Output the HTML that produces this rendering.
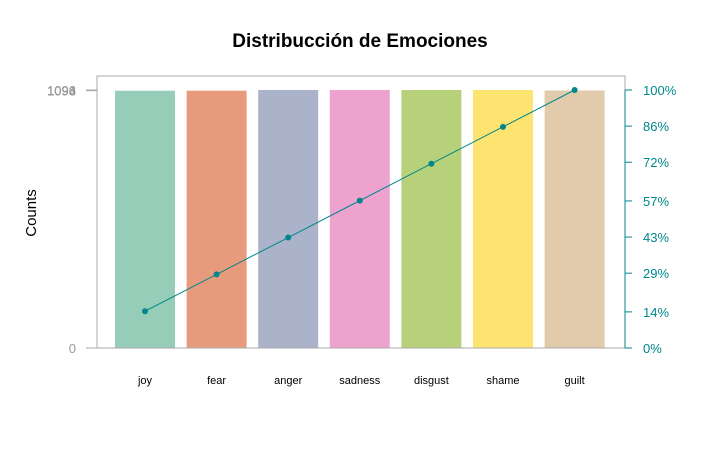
<!DOCTYPE html>
<html><head><meta charset="utf-8"><style>
body{margin:0;background:#fff;}
svg text{font-family:"Liberation Sans",Arial,sans-serif;}
</style></head><body>
<svg id="chart" width="721" height="445" xmlns="http://www.w3.org/2000/svg">
<text x="360" y="47" text-anchor="middle" font-size="19" font-weight="bold">Distribucción de Emociones</text>
<text transform="translate(36,213) rotate(-90)" text-anchor="middle" font-size="15">Counts</text>
<rect x="97" y="76" width="528" height="272" fill="none" stroke="#aaa" stroke-width="1"/>
<g id="bars"></g><g id="line"></g><g id="axes"></g>
</svg>
<script>
const categories=["joy","fear","anger","sadness","disgust","shame","guilt"];
const counts=[1093,1093,1096,1096,1096,1096,1094];
const leftTicks=[0,1093,1094,1096];
const pctTicks=[0,14,29,43,57,72,86,100];
const pctLabels=["0%","14%","29%","43%","57%","72%","86%","100%"];
const colors=["#95cdb9","#e89b7c","#abb3cb","#eea2ce","#b7d17a","#fde470","#e2cbac"];
const NS="http://www.w3.org/2000/svg";
const x0=97,x1=625,yb=348,yt=90;
const maxC=Math.max(...counts);
const total=counts.reduce((a,b)=>a+b,0);
function xc(i){return 145+i*71.6;}
function yv(v){return yb-v/maxC*(yb-yt);}
function yp(p){return yb-p/100*(yb-yt);}
function mk(t,a,p){const e=document.createElementNS(NS,t);for(const k in a)e.setAttribute(k,a[k]);p.appendChild(e);return e;}
const gb=document.getElementById('bars'),gl=document.getElementById('line'),ga=document.getElementById('axes');
let cum=0;const pts=[];
categories.forEach((c,i)=>{
 const r=mk('rect',{x:xc(i)-30,y:yv(counts[i]),width:60,height:yb-yv(counts[i]),fill:colors[i]},gb);
 
 
 const t=mk('text',{x:xc(i),y:384,'text-anchor':'middle','font-size':11},ga);t.textContent=c;
 
 
 cum+=counts[i];pts.push([xc(i),yp(cum/total*100)]);
});
const pl=mk('polyline',{points:pts.map(p=>p.join(',')).join(' '),fill:'none',stroke:'#00868b','stroke-width':1},gl);


pts.forEach((p,i)=>{const c=mk('circle',{cx:p[0],cy:p[1],r:3,fill:'#00868b'},gl);
 
 });
mk('line',{x1:86,y1:yb,x2:x1,y2:yb,stroke:'#aaa'},ga);
leftTicks.forEach(v=>{mk('line',{x1:86,y1:yv(v),x2:97,y2:yv(v),stroke:'#aaa'},ga);
 const t=mk('text',{x:76,y:yv(v)+5,'text-anchor':'end','font-size':13,fill:'#999'},ga);t.textContent=v;
 
 });
mk('line',{x1:x1,y1:yb,x2:x1,y2:yt,stroke:'#00868b'},ga);
pctTicks.forEach((p,i)=>{mk('line',{x1:x1,y1:yp(p),x2:x1+7,y2:yp(p),stroke:'#00868b'},ga);
 const t=mk('text',{x:643,y:yp(p)+5,'font-size':13,fill:'#00868b'},ga);t.textContent=pctLabels[i];
 
 });
</script>
</body></html>
